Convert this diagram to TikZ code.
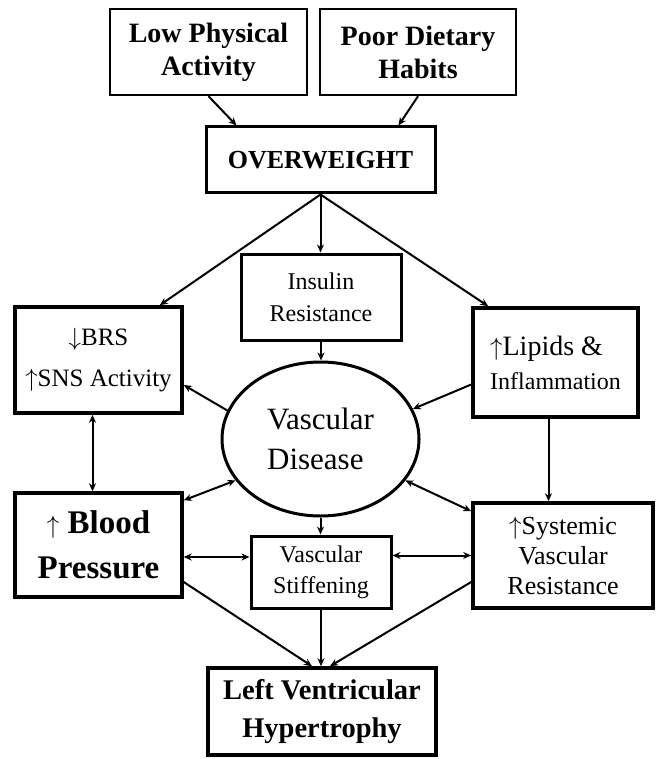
\documentclass[tikz,border=0pt]{standalone}
\usepackage{fontspec}
\setmainfont{Liberation Serif}
\usetikzlibrary{arrows.meta,calc,shapes.geometric}
\newcommand{\myup}{$\uparrow$}
\newcommand{\mydown}{$\downarrow$}
\begin{document}
\begin{tikzpicture}[x=1pt,y=-1pt,
  box/.style={draw,line width=#1,inner sep=0pt,align=center},
  tip/.tip={Stealth[length=8pt,width=7pt]},
  arr/.style={line width=2pt,-tip},
  darr/.style={line width=2pt,tip-tip},
]
\useasboundingbox (0,0) rectangle (660,759);

% nodes
\node[box=2.4pt,minimum width=197pt,minimum height=86pt,font=\fontsize{28}{33}\selectfont\bfseries]
  (lpa) at (208.5,52) {Low Physical\\Activity};
\node[box=2.4pt,minimum width=196pt,minimum height=86pt,font=\fontsize{28}{33}\selectfont\bfseries]
  (pdh) at (418,52) {Poor Dietary\\Habits};
\node[box=3pt,minimum width=229pt,minimum height=66pt,font=\fontsize{26}{30}\selectfont\bfseries]
  (ow) at (320.5,160) {OVERWEIGHT};
\node[box=3.6pt,minimum width=167pt,minimum height=106pt,font=\fontsize{25}{41}\selectfont]
  (brs) at (98.5,360) {\mydown BRS\\\myup SNS Activity};
\node[box=3pt,minimum width=160pt,minimum height=86pt,font=\fontsize{24}{32}\selectfont]
  (ins) at (321,297) {Insulin\\Resistance};
\node[box=3.6pt,minimum width=165pt,minimum height=109pt,align=left,font=\fontsize{24}{34}\selectfont]
  (lip) at (555.5,362.5) {{\fontsize{28}{34}\selectfont \myup Lipids \&}\\Inflammation};
\node[draw,ellipse,line width=3pt,inner sep=0pt,minimum width=197pt,minimum height=154pt,
  align=left,font=\fontsize{31}{40}\selectfont]
  (ell) at (320.5,439) {Vascular\\Disease};
\node[box=3.4pt,minimum width=167pt,minimum height=104pt,font=\fontsize{33}{45}\selectfont\bfseries]
  (bp) at (98.5,545) {\myup\ Blood\\Pressure};
\node[box=3pt,minimum width=140pt,minimum height=72pt,font=\fontsize{24}{31}\selectfont]
  (vs) at (321,572) {Vascular\\Stiffening};
\node[box=3.6pt,minimum width=180pt,minimum height=105pt,font=\fontsize{26}{30}\selectfont]
  (svr) at (563,555.5) {\myup Systemic\\Vascular\\Resistance};
\node[box=3.6pt,minimum width=228pt,minimum height=87pt,font=\fontsize{28.5}{38}\selectfont\bfseries]
  (lvh) at (322,711.5) {Left Ventricular\\Hypertrophy};

% connectors
\draw[arr] (lpa.south) -- ([xshift=32pt]ow.north west);
\draw[arr] (pdh.south) -- ([xshift=-38pt]ow.north east);
\draw[arr] (ow.south) -- ([xshift=-24pt]brs.north east);
\draw[arr] (ow.south) -- (ow.south |- ins.north);
\draw[arr] (ow.south) -- ([xshift=17pt]lip.north west);
\draw[arr] (ins.south) -- (ins.south |- ell.north);
\draw[arr] (ell.163) -- ([yshift=-25pt]brs.east);
\draw[arr] ([yshift=-22pt]lip.west) -- (ell.18);
\draw[arr] ([xshift=-7pt]lip.south) -- ([xshift=-7pt]lip.south |- svr.north);
\draw[darr] ([xshift=-6pt]brs.south) -- ([xshift=-6pt]brs.south |- bp.north);
\draw[darr] ([yshift=-9pt]bp.north east) -- (ell.206);
\draw[darr] (ell.334) -- ([yshift=-10pt]svr.north west);
\draw[arr] (ell.south) -- (ell.south |- vs.north);
\draw[darr] ([yshift=-12pt]bp.east) -- ([yshift=-12pt]bp.east -| vs.west);
\draw[darr] (vs.east |- svr.west) -- (svr.west);
\draw[arr] ([yshift=-37pt]bp.east) -- ([xshift=-10pt]lvh.north);
\draw[arr] (vs.south) -- (vs.south |- lvh.north);
\draw[arr] ([yshift=-26.5pt]svr.west) -- ([xshift=8pt]lvh.north);
\end{tikzpicture}
\end{document}
